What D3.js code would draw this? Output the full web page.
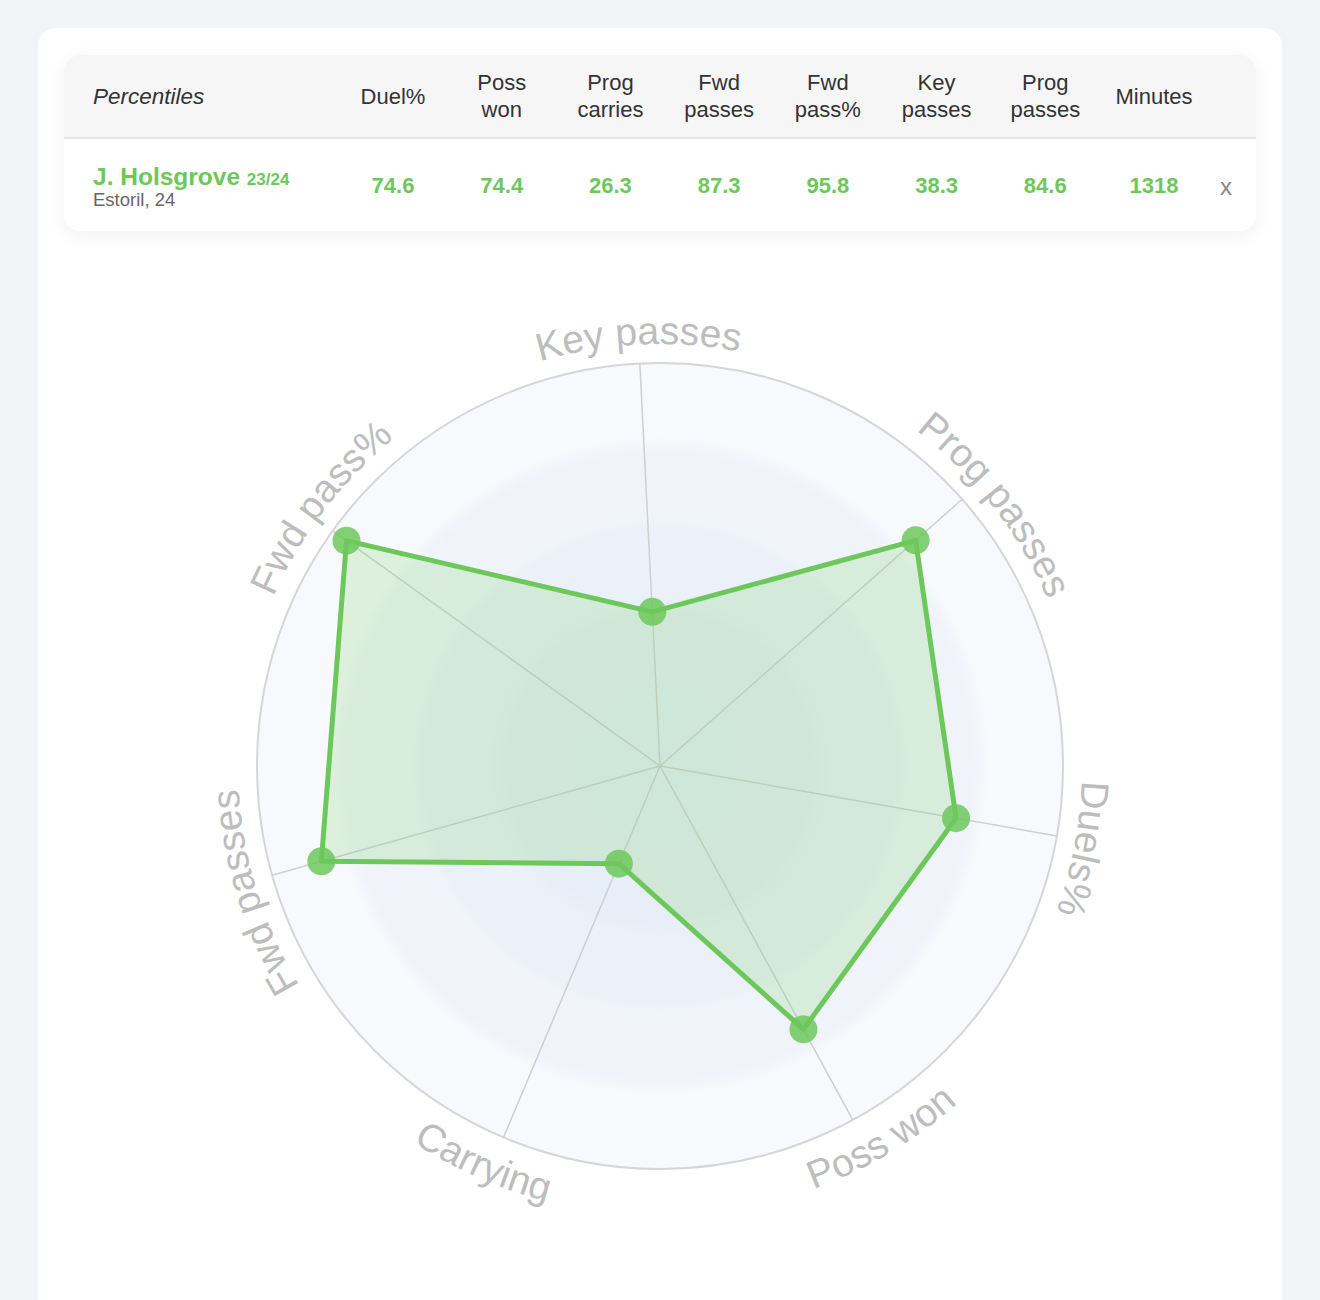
<!DOCTYPE html>
<html>
<head>
<meta charset="utf-8">
<script src="https://cdn.jsdelivr.net/npm/d3@7"></script>
<style>
  html, body { margin: 0; padding: 0; background: #f3f4f8; }
  svg { display: block; font-family: "Liberation Sans", Helvetica, Arial, sans-serif; }
</style>
</head>
<body>
<svg id="chart" width="1320" height="1300"></svg>
<script>
// ---- data ----
const tableHeaders = [["Duel%"], ["Poss", "won"], ["Prog", "carries"], ["Fwd", "passes"], ["Fwd", "pass%"], ["Key", "passes"], ["Prog", "passes"], ["Minutes"]];
const tableValues = ["74.6", "74.4", "26.3", "87.3", "95.8", "38.3", "84.6", "1318"];
const playerName = "J. Holsgrove";
const playerSeason = "23/24";
const playerInfo = "Estoril, 24";

const radarAxes = ["Key passes", "Prog passes", "Duels%", "Poss won", "Carrying", "Fwd passes", "Fwd pass%"];
const radarValues = [38.3, 84.6, 74.6, 74.4, 26.3, 87.3, 95.8];
const ringLevels = [20, 40, 60, 80];

// ---- layout ----
const svg = d3.select("#chart");
const green = "#6dc85c";
const defs = svg.append("defs");

const shadow = defs.append("filter").attr("id", "shadow").attr("x", "-10%").attr("y", "-20%").attr("width", "120%").attr("height", "150%");
shadow.append("feDropShadow").attr("dx", 0).attr("dy", 4).attr("stdDeviation", 8).attr("flood-color", "#000").attr("flood-opacity", 0.06);
const blur = defs.append("filter").attr("id", "blur").attr("x", "-10%").attr("y", "-10%").attr("width", "120%").attr("height", "120%");
blur.append("feGaussianBlur").attr("stdDeviation", 4);

// page card
svg.append("rect").attr("x", 38).attr("y", 28).attr("width", 1244).attr("height", 1300).attr("rx", 18).attr("fill", "#fff");

// table card
const tx = 64, ty = 55, tw = 1192, th = 176;
defs.append("clipPath").attr("id", "cardClip").append("rect").attr("x", tx).attr("y", ty).attr("width", tw).attr("height", th).attr("rx", 16);
svg.append("rect").attr("x", tx).attr("y", ty).attr("width", tw).attr("height", th).attr("rx", 16).attr("fill", "#fff").attr("filter", "url(#shadow)");
const card = svg.append("g").attr("clip-path", "url(#cardClip)");
card.append("rect").attr("x", tx).attr("y", ty).attr("width", tw).attr("height", 83).attr("fill", "#f6f6f7");
card.append("line").attr("x1", tx).attr("x2", tx + tw).attr("y1", 138).attr("y2", 138).attr("stroke", "#e2e2e4").attr("stroke-width", 2);

svg.append("text").attr("x", 93).attr("y", 104).attr("font-size", 22.5).attr("font-style", "italic").attr("fill", "#333").text("Percentiles");

const colX = d3.scalePoint().domain(d3.range(tableHeaders.length)).range([393, 1154]);

tableHeaders.forEach((lines, i) => {
  const t = svg.append("text").attr("text-anchor", "middle").attr("font-size", 22).attr("fill", "#333");
  if (lines.length === 1) {
    t.append("tspan").attr("x", colX(i)).attr("y", 104).text(lines[0]);
  } else {
    t.append("tspan").attr("x", colX(i)).attr("y", 90).text(lines[0]);
    t.append("tspan").attr("x", colX(i)).attr("y", 117).text(lines[1]);
  }
});

const nameT = svg.append("text").attr("x", 93).attr("y", 185).attr("fill", green).attr("font-weight", "bold");
nameT.append("tspan").attr("font-size", 24.5).text(playerName + " ");
nameT.append("tspan").attr("font-size", 17).text(playerSeason);
svg.append("text").attr("x", 93).attr("y", 206).attr("font-size", 18.5).attr("fill", "#666").text(playerInfo);

tableValues.forEach((v, i) => {
  svg.append("text").attr("x", colX(i)).attr("y", 193).attr("text-anchor", "middle")
    .attr("font-size", 22).attr("font-weight", "bold").attr("fill", green).text(v);
});
svg.append("text").attr("x", 1226).attr("y", 195).attr("text-anchor", "middle").attr("font-size", 24).attr("fill", "#888").text("x");

// ---- radar ----
const cx = 660, cy = 766, R = 403;
const n = radarAxes.length;
const offset = -0.05;
const angle = d3.scaleLinear().domain([0, n]).range([offset, offset + 2 * Math.PI]);
const rScale = d3.scaleLinear().domain([0, 100]).range([0, R]);
const px = (a, r) => cx + r * Math.sin(a);
const py = (a, r) => cy - r * Math.cos(a);

const g = svg.append("g");
g.append("circle").attr("cx", cx).attr("cy", cy).attr("r", R).attr("fill", "#f8f9fc").attr("stroke", "#d6d6d8").attr("stroke-width", 2);
const rings = g.append("g").attr("filter", "url(#blur)");
ringLevels.slice().reverse().forEach(l => {
  rings.append("circle").attr("cx", cx).attr("cy", cy).attr("r", rScale(l)).attr("fill", "#e0ebf7").attr("fill-opacity", 0.33);
});

g.selectAll(".axis").data(radarAxes).join("line")
  .attr("x1", cx).attr("y1", cy)
  .attr("x2", (d, i) => px(angle(i), R)).attr("y2", (d, i) => py(angle(i), R))
  .attr("stroke", "#cfcfd1").attr("stroke-width", 1.5);

const pts = radarValues.map((v, i) => [px(angle(i), rScale(v)), py(angle(i), rScale(v))]);
g.append("path").attr("d", d3.line()(pts) + "Z")
  .attr("fill", "#7fd06c").attr("fill-opacity", 0.22)
  .attr("stroke", green).attr("stroke-width", 5).attr("stroke-linejoin", "round");
g.selectAll(".dot").data(pts).join("circle")
  .attr("cx", d => d[0]).attr("cy", d => d[1]).attr("r", 14)
  .attr("fill", green).attr("fill-opacity", 0.85);

// curved labels (small per-label angular nudges, degrees clockwise)
const labelNudge = [0, 3.5, 1.1, -2.1, 1.1, -1.5, 1.6];
const span = 1.0;
radarAxes.forEach((label, i) => {
  const a = angle(i) + labelNudge[i] * Math.PI / 180;
  let deg = (a * 180 / Math.PI + 360) % 360;
  const flip = deg > 120 && deg < 240;
  const r = flip ? 450 : 422;
  const a0 = flip ? a + span : a - span;
  const a1 = flip ? a - span : a + span;
  const d = `M${px(a0, r)},${py(a0, r)} A${r},${r} 0 0 ${flip ? 0 : 1} ${px(a1, r)},${py(a1, r)}`;
  defs.append("path").attr("id", "lab" + i).attr("d", d);
  svg.append("text").attr("font-size", 39).attr("fill", "#bdbdbd")
    .append("textPath").attr("href", "#lab" + i).attr("startOffset", "50%").attr("text-anchor", "middle").text(label);
});
</script>
</body>
</html>
